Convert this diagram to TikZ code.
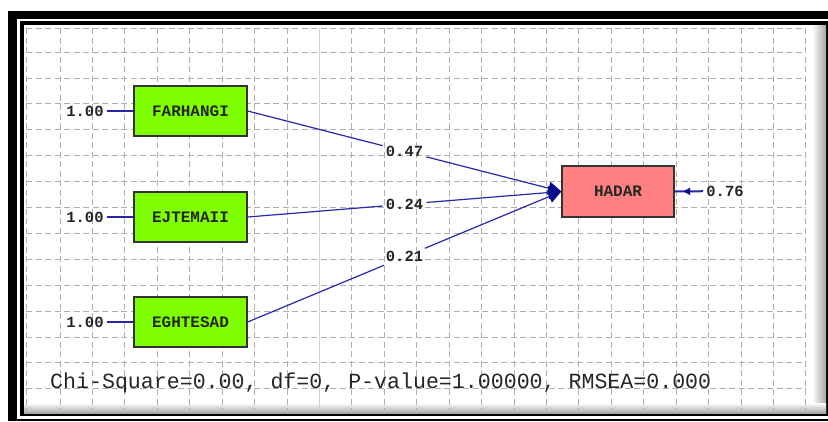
\documentclass[tikz,border=0pt]{standalone}
\usepackage{fontspec}
\setmonofont{Liberation Mono}
\usetikzlibrary{arrows.meta,calc,decorations.markings}

\definecolor{obsgreen}{RGB}{128,255,0}
\definecolor{latred}{RGB}{255,128,128}
\definecolor{pathblue}{RGB}{40,40,175}
\definecolor{tipblue}{RGB}{10,10,140}
\definecolor{gridgray}{RGB}{175,175,175}

\begin{document}
\begin{tikzpicture}[x=1pt,y=-1pt,
	varbox/.style={draw=black!80,line width=1.3pt,minimum width=113pt,minimum height=50pt,inner sep=0pt,
		font=\fontsize{16}{16}\selectfont\ttfamily\bfseries,text=black!85},
	coef/.style={inner sep=3pt,font=\fontsize{15.5}{15.5}\selectfont\ttfamily\bfseries,text=black!85},
	pline/.style={draw=pathblue,line width=1.2pt},
	gridline/.style={gridgray,line width=0.8pt,dash pattern=on 6pt off 3.5pt}]

	\useasboundingbox (0,0) rectangle (828,421);

	% frame
	\fill[black] (8,11) rectangle (828,421);
	\fill[white] (17,19) rectangle (828,419);
	\fill[black] (20,21) rectangle (828,416);
	\fill[white] (24,25) rectangle (826,413);
	\shade[left color=white,right color=gray!70] (812,25) rectangle (826,413);
	\shade[top color=white,bottom color=gray!70] (24,403) rectangle (826,413);

	% grid
	\foreach \i in {0,...,23}
		\draw[gridline] ({60+32.43*\i},28) -- ({60+32.43*\i},410);
	\foreach \j in {0,...,13}
		\draw[gridline] (26,{52+25.9*\j}) -- (806,{52+25.9*\j});
	\draw[gridline] (26,28) -- (806,28);
	\draw[gridline] (26,28) -- (26,410);
	\draw[gray!35,line width=1.2pt] (319.4,28) -- (319.4,410);

	\node[varbox,fill=obsgreen] (farhangi) at (190.5,111) {FARHANGI};
	\node[varbox,fill=obsgreen] (ejtemaii) at (190.5,217) {EJTEMAII};
	\node[varbox,fill=obsgreen] (eghtesad) at (190.5,322) {EGHTESAD};
	\node[varbox,fill=latred,minimum width=112pt,minimum height=51pt] (hadar) at (618,191.5) {HADAR};

	\node[coef] (v1) at (85,111) {1.00};
	\node[coef] (v2) at (85,217) {1.00};
	\node[coef] (v3) at (85,322) {1.00};
	\draw[pline] (v1) -- (farhangi);
	\draw[pline] (v2) -- (ejtemaii);
	\draw[pline] (v3) -- (eghtesad);

	\node[coef] (b1) at ($(farhangi.east)!0.5!(hadar.west)$) {0.47};
	\node[coef] (b2) at ($(ejtemaii.east)!0.5!(hadar.west)$) {0.24};
	\node[coef] (b3) at ($(eghtesad.east)!0.5!(hadar.west)$) {0.21};
	\foreach \src/\lbl in {farhangi/b1,ejtemaii/b2,eghtesad/b3}{
		\draw[pline] (\src.east) -- (\lbl);
		\draw[pline,-{Triangle[length=13pt,width=13pt,color=tipblue]}] (\lbl) -- (hadar.west);
	}

	\node[coef] (e1) at (725,191) {0.76};
	\draw[pline,line width=2pt,postaction={decorate},
		decoration={markings,mark=at position 0.7 with {\arrow{Triangle[length=7pt,width=7pt,color=tipblue]}}}]
		(e1) -- (hadar.east);

	\node[anchor=base west,inner sep=0pt,font=\fontsize{21.6}{22}\selectfont\ttfamily,text=black!85] (fit) at (50,388)
		{Chi-Square=0.00, df=0, P-value=1.00000, RMSEA=0.000};
\end{tikzpicture}
\end{document}
